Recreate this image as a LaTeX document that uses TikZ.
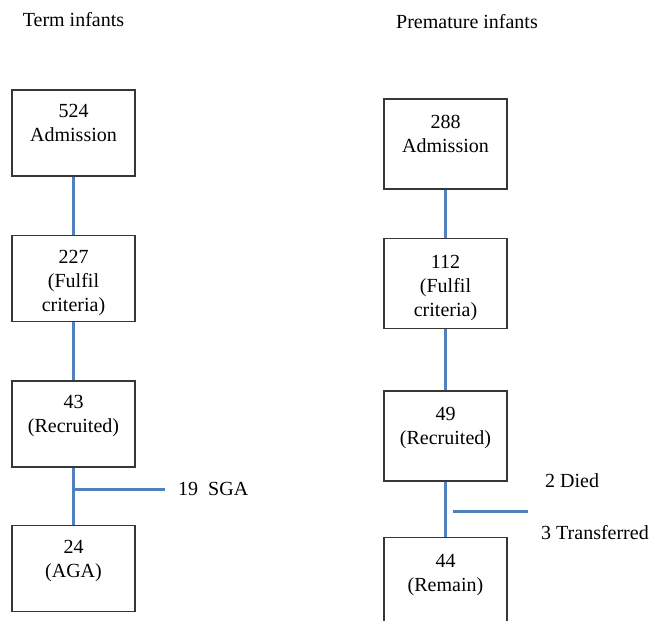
\documentclass[tikz,border=0pt]{standalone}
\usepackage{fontspec}
\setmainfont{Liberation Serif}
\usetikzlibrary{positioning}
\definecolor{linkblue}{RGB}{79,129,189}
\definecolor{boxgray}{RGB}{55,55,55}
\newcommand{\padtop}{\rule{0pt}{22pt}}

\begin{document}
\begin{tikzpicture}[x=1pt,y=-1pt]
\tikzstyle{stage}=[rectangle, draw=boxgray, line width=1.6pt, minimum width=123pt, align=center, font=\fontsize{20}{24}\selectfont, inner sep=2pt]
\tikzstyle{link}=[draw=linkblue, line width=3pt]
\tikzstyle{note}=[inner sep=0pt, font=\fontsize{20}{24}\selectfont]
\useasboundingbox (0,0) rectangle (659,621);
  % term infants
  \node[note, anchor=base] (term) at (73.5,26.5) {Term infants};
  \node[stage, minimum height=86pt, anchor=north] (ta) at (73.5,89) {\padtop 524\\Admission\\\phantom{(}};
  \node[stage, minimum height=86pt] (tb) [below=58pt of ta] {\padtop 227\\(Fulfil\\criteria)};
  \node[stage, minimum height=86pt] (tc) [below=58pt of tb] {\padtop 43\\(Recruited)\\\phantom{(}};
  \node[stage, minimum height=86pt] (td) [below=57pt of tc] {\padtop 24\\(AGA)\\\phantom{(}};
  \coordinate (sgaend) at (165,489);
  \node[note, anchor=west] (sga) [right=13pt of sgaend] {19\ \ SGA};
  \path (ta) edge [link] (tb)
        (tb) edge [link] (tc)
        (tc) edge [link] (td)
        (tc.south |- sgaend) edge [link] (sgaend);
  % premature infants
  \node[note, anchor=base] (prem) at (467,28) {Premature infants};
  \node[stage, minimum height=90pt, anchor=north] (pa) at (445.5,98) {\padtop 288\\Admission\\\phantom{(}};
  \node[stage, minimum height=90pt] (pb) [below=48pt of pa] {\padtop 112\\(Fulfil\\criteria)};
  \node[stage, minimum height=90pt] (pc) [below=61pt of pb] {\padtop 49\\(Recruited)\\\phantom{(}};
  \node[stage, minimum height=90pt] (pd) [below=55pt of pc] {\padtop 44\\(Remain)\\\phantom{(}};
  \coordinate (exitl) at (453,511);
  \coordinate (exitr) at (528,511);
  \node[note, anchor=base west] (died) at (545,487) {2 Died};
  \node[note, anchor=base west] (moved) at (541,539) {3 Transferred};
  \path (pa) edge [link] (pb)
        (pb) edge [link] (pc)
        (pc) edge [link] (pd)
        (exitl) edge [link] (exitr);
\end{tikzpicture}
\end{document}
